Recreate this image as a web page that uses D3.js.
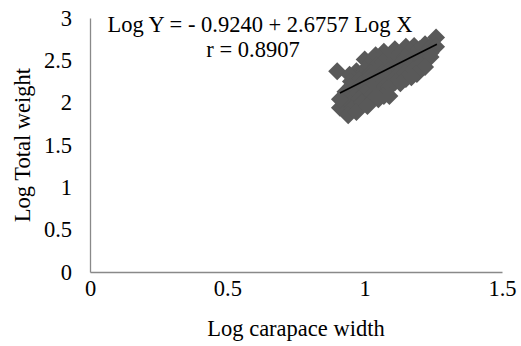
<!DOCTYPE html>
<html>
<head>
<meta charset="utf-8">
<script src="https://cdn.jsdelivr.net/npm/d3@7"></script>
<style>
  body { margin: 0; background: #fff; }
  text { font-family: "Liberation Serif", "Times New Roman", serif; fill: #000; }
</style>
</head>
<body>
<div id="chart"></div>
<script>
// log carapace width (x) and log total weight (y)
const logCW = [
  1.00, 1.04, 1.07, 1.11, 1.15, 1.18, 1.22, 1.26,
  1.02, 1.055, 1.09, 1.13, 1.165, 1.20, 1.24,
  0.97, 1.00, 1.04, 1.07, 1.11, 1.15, 1.18, 1.22, 1.26,
  0.985, 1.02, 1.055, 1.09, 1.13, 1.165, 1.20, 1.24,
  0.90, 0.945, 0.95, 0.98, 1.02, 1.06, 1.09, 1.13, 1.17, 1.20, 1.24,
  0.95, 0.985, 1.02, 1.055, 1.09, 1.13, 1.165, 1.20,
  0.93, 0.97, 1.00, 1.04, 1.07, 1.11, 1.15, 1.18, 1.22,
  0.94, 0.965, 1.00, 1.04, 1.075, 1.11, 1.15, 1.19,
  0.91, 0.95, 0.98, 1.02, 1.06, 1.09, 1.13, 1.17,
  0.955, 0.99, 1.03, 1.07,
  0.94, 0.97, 1.01, 1.05, 1.09,
  0.91
];
const logTW = [
  2.51, 2.56, 2.60, 2.63, 2.66, 2.67, 2.69, 2.77,
  2.47, 2.52, 2.55, 2.58, 2.61, 2.63, 2.66,
  2.37, 2.39, 2.44, 2.48, 2.51, 2.54, 2.56, 2.58, 2.66,
  2.32, 2.35, 2.40, 2.43, 2.47, 2.50, 2.52, 2.59,
  2.37, 2.33, 2.25, 2.27, 2.31, 2.35, 2.38, 2.42, 2.45, 2.49, 2.54,
  2.19, 2.22, 2.26, 2.29, 2.33, 2.38, 2.42, 2.45,
  2.13, 2.16, 2.18, 2.21, 2.25, 2.30, 2.35, 2.39, 2.42,
  2.04, 2.08, 2.12, 2.15, 2.19, 2.24, 2.28, 2.34,
  1.94, 1.99, 2.04, 2.07, 2.12, 2.18, 2.23, 2.30,
  1.93, 2.00, 2.04, 2.08,
  1.85, 1.89, 1.96, 2.04, 2.08,
  2.04
];
// fitted line as drawn
const fitX = [0.91, 1.263];
const fitY = [2.114, 2.69];

const xTicks = [0, 0.5, 1, 1.5];
const yTicks = [0, 0.5, 1, 1.5, 2, 2.5, 3];
const eqLines = ["Log Y = - 0.9240 + 2.6757 Log X", "r = 0.8907"];
const xTitle = "Log carapace width";
const yTitle = "Log Total weight";

const W = 521, H = 346;
const m = { left: 90, right: 19, top: 18, bottom: 74 };
const fs = "22.5px";

const svg = d3.select("#chart").append("svg").attr("width", W).attr("height", H);

const x = d3.scaleLinear().domain([0, 1.5]).range([m.left, W - m.right]);
const y = d3.scaleLinear().domain([0, 3]).range([H - m.bottom, m.top]);

// axes: plain gray lines, labels only
const axisColor = "#898989";
const xAxis = svg.append("g").attr("transform", "translate(0," + y(0) + ")")
  .call(d3.axisBottom(x).tickValues(xTicks).tickSize(0).tickPadding(22)
    .tickFormat(d3.format("")));
xAxis.select(".domain").attr("stroke", axisColor).attr("stroke-width", 1.3);
xAxis.selectAll("text").style("font-size", fs)
  .style("font-family", "Liberation Serif").attr("dy", "0.1em");

const yAxis = svg.append("g").attr("transform", "translate(" + x(0) + ",0)")
  .call(d3.axisLeft(y).tickValues(yTicks).tickSize(0).tickPadding(18)
    .tickFormat(d3.format("")));
yAxis.select(".domain").attr("stroke", axisColor).attr("stroke-width", 1.3);
yAxis.selectAll("text").style("font-size", fs)
  .style("font-family", "Liberation Serif");

// markers
const pts = logCW.map((v, i) => [v, logTW[i]]);
const r = 9;
svg.append("g").selectAll("path").data(pts).enter().append("path")
  .attr("d", "M0," + (-r) + "L" + r + ",0L0," + r + "L" + (-r) + ",0Z")
  .attr("transform", d => "translate(" + x(d[0]) + "," + y(d[1]) + ")")
  .attr("fill", "#595959");

// fit line
svg.append("line")
  .attr("x1", x(fitX[0])).attr("y1", y(fitY[0]))
  .attr("x2", x(fitX[1])).attr("y2", y(fitY[1]))
  .attr("stroke", "#000").attr("stroke-width", 1.5);

// equation
svg.append("text").attr("x", 260).attr("y", 32).attr("text-anchor", "middle")
  .style("font-size", fs).text(eqLines[0]);
svg.append("text").attr("x", 253).attr("y", 57).attr("text-anchor", "middle")
  .style("font-size", fs).text(eqLines[1]);

// titles
svg.append("text").attr("x", (x(0) + x(1.5)) / 2).attr("y", 336)
  .attr("text-anchor", "middle").style("font-size", fs).text(xTitle);
svg.append("text").attr("transform", "translate(30," + (y(1.5)) + ") rotate(-90)")
  .attr("text-anchor", "middle").style("font-size", fs).text(yTitle);
</script>
</body>
</html>
